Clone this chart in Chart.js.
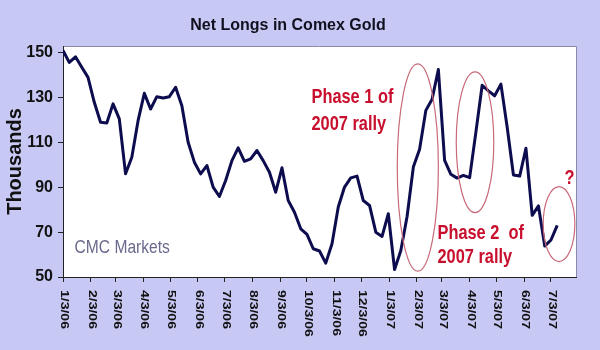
<!DOCTYPE html>
<html>
<head>
<meta charset="utf-8">
<script src="https://cdn.jsdelivr.net/npm/chart.js"></script>
<style>
  html, body { margin: 0; padding: 0; background: #c8c8f5; }
</style>
</head>
<body>
<canvas id="goldChart" width="600" height="350"></canvas>
<script>
// weekly COT readings, first report 1/3/06
const startDate = '2006-01-03';
const netLongs = [
  151, 145.7, 148.2, 143.5, 139, 127.9, 119, 118.7, 127.2, 120.5,
  96, 103.4, 119.7, 131.9, 124.9, 130.4, 129.8, 130.4, 134.6, 126.4,
  110.1, 101.2, 96, 99.7, 90.1, 85.9, 93, 101.9, 107.6, 101.6,
  102.7, 106.4, 101.9, 96.7, 87.8, 98.7, 84.1, 78.9, 71.5, 69,
  62.6, 61.6, 56.2, 64.8, 81.2, 90.1, 94.2, 95, 84.1, 81.9,
  70, 68.1, 78.2, 53.3, 61.8, 77, 99, 107, 124.3, 129.3,
  142.5, 102, 95.8, 94.1, 95.3, 94.3, 114.6, 135.5, 133, 130.8,
  136, 116.8, 95.5, 95, 107.4, 77.5, 81.7, 63.8, 66.5, 73
];

const tickDates = [
  '2006-01-03', '2006-02-03', '2006-03-03', '2006-04-03', '2006-05-03',
  '2006-06-03', '2006-07-03', '2006-08-03', '2006-09-03', '2006-10-03',
  '2006-11-03', '2006-12-03', '2007-01-03', '2007-02-03', '2007-03-03',
  '2007-04-03', '2007-05-03', '2007-06-03', '2007-07-03'
];
const tickLabels = [
  '1/3/06', '2/3/06', '3/3/06', '4/3/06', '5/3/06', '6/3/06', '7/3/06',
  '8/3/06', '9/3/06', '10/3/06', '11/3/06', '12/3/06', '1/3/07', '2/3/07',
  '3/3/07', '4/3/07', '5/3/07', '6/3/07', '7/3/07'
];
const yTicks = [50, 70, 90, 110, 130, 150];

const t0 = Date.parse(startDate);
const dayOf = d => (Date.parse(d) - t0) / 864e5;
const points = netLongs.map((v, i) => ({ x: i * 7, y: v }));

// circled areas: centre (day, value) and radii (days, thousands)
const circles = [
  { day: 397, value: 98.8, rDay: 23, rVal: 46.2 },
  { day: 461, value: 110.1, rDay: 21, rVal: 31.4 },
  { day: 555, value: 73.6, rDay: 17.7, rVal: 16.7 }
];
const notes = [
  { text: 'Phase 1 of', day: 278, value: 127.5 },
  { text: '2007 rally', day: 278, value: 115.6 },
  { text: 'Phase 2  of', day: 419, value: 66.9 },
  { text: '2007 rally', day: 419, value: 56.2 },
  { text: '?', day: 561, value: 91.5 }
];

const decorations = {
  id: 'decorations',
  beforeDraw(chart) {
    const { ctx, chartArea: a, width, height } = chart;
    ctx.save();
    ctx.fillStyle = '#c8c8f5';
    ctx.fillRect(0, 0, width, height);
    ctx.fillStyle = '#ffffff';
    ctx.fillRect(a.left, a.top, a.right - a.left, a.bottom - a.top);
    ctx.strokeStyle = '#8a8aa6';
    ctx.lineWidth = 1;
    ctx.beginPath();
    ctx.moveTo(a.left, a.top + 0.5);
    ctx.lineTo(a.right + 0.5, a.top + 0.5);
    ctx.lineTo(a.right + 0.5, a.bottom);
    ctx.stroke();
    ctx.restore();
  },
  afterDraw(chart) {
    const { ctx, chartArea: a } = chart;
    const xs = chart.scales.x, ys = chart.scales.y;
    ctx.save();

    // x labels, rotated to read downwards
    ctx.fillStyle = '#111111';
    ctx.font = 'bold 14px "Liberation Sans", Arial, sans-serif';
    ctx.textAlign = 'left';
    ctx.textBaseline = 'middle';
    xs.ticks.forEach((t, i) => {
      ctx.save();
      ctx.translate(xs.getPixelForValue(t.value) + 1, a.bottom + 13);
      ctx.rotate(Math.PI / 2);
      ctx.scale(1, 0.78);
      ctx.fillText(tickLabels[i], 0, 0);
      ctx.restore();
    });

    // CMC Markets tag
    ctx.save();
    ctx.translate(xs.getPixelForValue(13), ys.getPixelForValue(60.7));
    ctx.scale(0.82, 1);
    ctx.fillStyle = '#6a6a8e';
    ctx.font = '19px "Liberation Sans", Arial, sans-serif';
    ctx.textBaseline = 'alphabetic';
    ctx.fillText('CMC Markets', 0, 0);
    ctx.restore();

    // ellipses
    ctx.save();
    ctx.beginPath();
    ctx.rect(a.left, a.top, a.right - a.left, a.bottom - a.top);
    ctx.clip();
    ctx.strokeStyle = '#c86a78';
    ctx.lineWidth = 1.2;
    circles.forEach(c => {
      const cx = xs.getPixelForValue(c.day), cy = ys.getPixelForValue(c.value);
      const rx = xs.getPixelForValue(c.day + c.rDay) - cx;
      const ry = cy - ys.getPixelForValue(c.value + c.rVal);
      ctx.beginPath();
      ctx.ellipse(cx, cy, rx, ry, 0, 0, Math.PI * 2);
      ctx.stroke();
    });
    ctx.restore();

    // red notes
    ctx.fillStyle = '#c8102e';
    ctx.font = 'bold 21px "Liberation Sans", Arial, sans-serif';
    ctx.textBaseline = 'alphabetic';
    notes.forEach(n => {
      ctx.save();
      ctx.translate(xs.getPixelForValue(n.day), ys.getPixelForValue(n.value));
      ctx.scale(0.78, 1);
      ctx.fillText(n.text, 0, 0);
      ctx.restore();
    });
    ctx.restore();
  }
};

new Chart(document.getElementById('goldChart'), {
  type: 'line',
  data: {
    datasets: [{
      label: 'Net Longs',
      data: points,
      borderColor: '#0c0c4e',
      borderWidth: 3,
      borderJoinStyle: 'round',
      pointRadius: 0,
      tension: 0,
      fill: false
    }]
  },
  options: {
    responsive: false,
    animation: false,
    layout: { padding: { left: 0, right: 24, top: 0, bottom: 0 } },
    plugins: {
      legend: { display: false },
      tooltip: { enabled: false },
      title: {
        display: true,
        text: 'Net Longs in Comex Gold',
        color: '#10101e',
        font: { family: '"Liberation Sans", Arial, sans-serif', size: 16, weight: 'bold', lineHeight: 1.25 },
        padding: { top: 16, bottom: 10 }
      }
    },
    scales: {
      x: {
        type: 'linear',
        min: 0,
        max: 574,
        afterBuildTicks: s => { s.ticks = tickDates.map(d => ({ value: dayOf(d) })); },
        afterFit: s => { s.height = 73; },
        ticks: { display: false },
        grid: { drawOnChartArea: false, drawTicks: true, tickLength: 5, color: '#222222' },
        border: { color: '#222222', width: 1 }
      },
      y: {
        min: 50,
        max: 153,
        afterBuildTicks: s => { s.ticks = yTicks.map(v => ({ value: v })); },
        afterFit: s => { s.width = 63; },
        ticks: {
          color: '#111111',
          padding: 5,
          font: { family: '"Liberation Sans", Arial, sans-serif', size: 16, weight: 'bold' }
        },
        grid: { drawOnChartArea: false, drawTicks: true, tickLength: 5, color: '#222222' },
        border: { color: '#222222', width: 1 },
        title: {
          display: true,
          text: 'Thousands',
          color: '#111111',
          font: { family: '"Liberation Sans", Arial, sans-serif', size: 20, weight: 'bold', lineHeight: 1.2 },
          padding: { top: 3, bottom: 0 }
        }
      }
    }
  },
  plugins: [decorations]
});
</script>
</body>
</html>
